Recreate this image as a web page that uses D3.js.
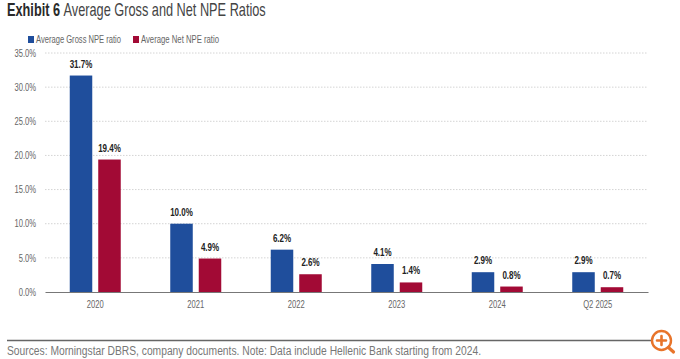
<!DOCTYPE html>
<html>
<head>
<meta charset="utf-8">
<script src="https://cdn.jsdelivr.net/npm/d3@7"></script>
<style>
  html, body { margin: 0; padding: 0; background: #fff; }
  svg { display: block; font-family: "Liberation Sans", sans-serif; }
</style>
</head>
<body>
<svg id="chart" width="680" height="359"></svg>
<script>
// Values.
const categories = ["2020", "2021", "2022", "2023", "2024", "Q2 2025"];
const seriesNames = ["Average Gross NPE ratio", "Average Net NPE ratio"];
const grossValues = [31.7, 10.0, 6.2, 4.1, 2.9, 2.9];
const netValues = [19.4, 4.9, 2.6, 1.4, 0.8, 0.7];
const yTicks = [0, 5, 10, 15, 20, 25, 30, 35];
const seriesColors = ["#1f4e9c", "#a20a35"];

const margin = { top: 53, right: 32, bottom: 67, left: 45 };
const width = 680 - margin.left - margin.right;
const height = 359 - margin.top - margin.bottom;

const svg = d3.select("#chart");
const g = svg.append("g").attr("transform", `translate(${margin.left},${margin.top})`);

const x = d3.scaleBand().domain(categories).range([0, width]);
const xInner = d3.scaleBand().domain([0, 1]).range([0, 51]).paddingInner(0.21);
const y = d3.scaleLinear().domain([0, 35]).range([height, 0]);

// No narrow font installed, so squeeze the glyphs to the reference's text widths.
function squeeze(sel, factor) {
    sel.each(function() {
        d3.select(this)
            .attr("textLength", this.getComputedTextLength() * factor)
            .attr("lengthAdjust", "spacingAndGlyphs");
    });
}

// Title, one text so the two weights can't collide
const title = svg.append("text").attr("font-size", 18).attr("fill", "#444")
    .attr("transform", "translate(7,16) scale(0.708,1)");
title.append("tspan").attr("font-weight", "bold").attr("fill", "#2a2a2a").text("Exhibit 6");
title.append("tspan").attr("dx", 5).text("Average Gross and Net NPE Ratios");

// Legend
const legendX = [28, 133];
const legendLen = [85, 78];
seriesNames.forEach((name, i) => {
    svg.append("rect").attr("x", legendX[i]).attr("y", 36).attr("width", 6).attr("height", 7).attr("fill", seriesColors[i]);
    svg.append("text").attr("x", legendX[i] + 8).attr("y", 43).attr("font-size", 10).attr("fill", "#666")
        .attr("textLength", legendLen[i]).attr("lengthAdjust", "spacingAndGlyphs").text(name);
});

// Y axis, dotted gridlines
const yAxis = d3.axisLeft(y).tickValues(yTicks).tickSize(0).tickPadding(9).tickFormat(d => d.toFixed(1) + "%");
g.append("g").call(yAxis).call(a => {
    a.select(".domain").remove();
    a.selectAll("text").attr("font-size", 10).attr("fill", "#666").attr("font-family", "inherit").call(squeeze, 0.76);
});
g.append("g").selectAll("line").data(yTicks.filter(d => d > 0)).join("line")
    .attr("x1", 0).attr("x2", width)
    .attr("y1", d => y(d)).attr("y2", d => y(d))
    .attr("stroke", "#d4d4d4").attr("stroke-width", 1).attr("stroke-dasharray", "1.5 1.5");

// Bars and value labels
[grossValues, netValues].forEach((values, s) => {
    const groupOffset = c => x(c) + (x.bandwidth() - 51) / 2 + xInner(s);
    g.append("g").selectAll("rect").data(values).join("rect")
        .attr("x", (d, i) => groupOffset(categories[i]))
        .attr("y", d => y(d))
        .attr("width", xInner.bandwidth())
        .attr("height", d => y(0) - y(d))
        .attr("fill", seriesColors[s]);
    g.append("g").selectAll("text").data(values).join("text")
        .attr("x", (d, i) => groupOffset(categories[i]) + xInner.bandwidth() / 2)
        .attr("y", d => y(d) - 8)
        .attr("text-anchor", "middle")
        .attr("font-size", 10).attr("font-weight", "bold").attr("fill", "#222")
        .text(d => d.toFixed(1) + "%")
        .call(squeeze, 0.8);
});

// X axis
const xAxis = d3.axisBottom(x).tickSize(0).tickPadding(9);
g.append("g").attr("transform", `translate(0,${height})`).call(xAxis).call(a => {
    a.select(".domain").attr("stroke", "#777").attr("stroke-width", 1.2);
    a.selectAll("text").attr("font-size", 10).attr("fill", "#666").attr("font-family", "inherit").call(squeeze, 0.76);
});

// Footer rule and source note
svg.append("line").attr("x1", 7).attr("x2", 660).attr("y1", 340.5).attr("y2", 340.5).attr("stroke", "#666").attr("stroke-width", 1.5);
svg.append("text").attr("x", 7).attr("y", 355).attr("font-size", 12.5).attr("fill", "#777")
    .attr("textLength", 474).attr("lengthAdjust", "spacingAndGlyphs")
    .text("Sources: Morningstar DBRS, company documents. Note: Data include Hellenic Bank starting from 2024.");

// Zoom icon in the corner
const icon = svg.append("g").attr("fill", "none").attr("stroke", "#e8742a").attr("stroke-linecap", "round");
icon.append("circle").attr("cx", 661.5).attr("cy", 340.5).attr("r", 9.5).attr("stroke-width", 2.4).attr("fill", "#fff");
icon.append("path").attr("d", "M668.5 347.5L673.5 352").attr("stroke-width", 3.2);
icon.append("path").attr("d", "M657 340.5H666M661.5 336V345").attr("stroke-width", 2.6);
</script>
</body>
</html>
